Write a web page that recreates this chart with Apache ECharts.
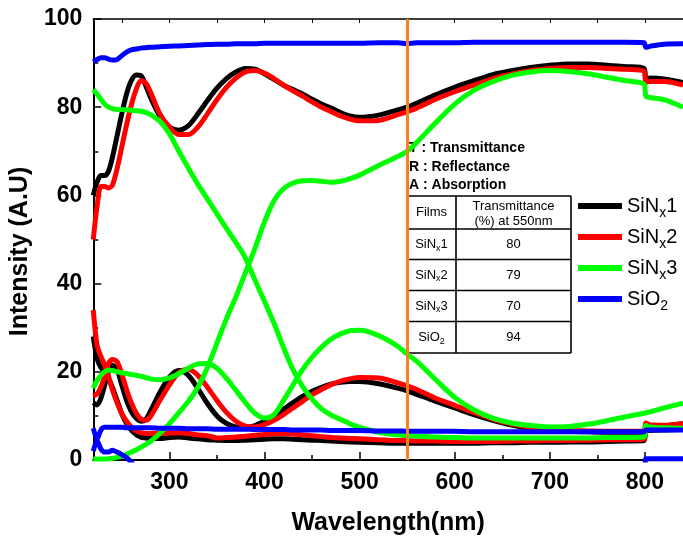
<!DOCTYPE html>
<html>
<head>
<meta charset="utf-8">
<script src="https://cdn.jsdelivr.net/npm/echarts@6/dist/echarts.min.js"></script>
<style>
html, body { margin: 0; padding: 0; background: #fff; }
#chart { width: 683px; height: 544px; }
</style>
</head>
<body>
<div id="chart"></div>
<script>
// Wavelength samples (nm)
const wavelength = [220,224,228,232,236,240,245,250,255,260,265,270,275,280,
  290,300,310,320,330,340,350,360,370,380,390,400,410,420,430,440,450,460,470,480,490,500,
  520,540,550,560,580,600,620,640,660,680,700,720,740,760,780,
  799,801,805,820,840];

// SiNx1 : transmittance / reflectance / absorption (%)
const sinx1T = [60,63,64.5,64.5,65.5,68.5,73.5,78.5,83,86,87.3,87.2,85,82.3,
  78,75.5,74.8,75.8,78.5,81.5,84.3,86.5,88,88.8,88.6,87.6,86.3,85,84,83,81.8,80.7,79.8,78.8,78,77.7,
  78.2,79.4,80,80.9,82.8,84.5,86,87.4,88.3,89,89.5,89.8,89.8,89.5,89.2,
  88.8,86.4,86.6,86.4,85.6];
const sinx1R = [13,12.5,14,17,20,21.5,20.5,17,13.5,11,9.5,8.8,9.2,11,
  15.3,18.8,20.3,19.2,16.2,12.8,10,8.3,7.5,7.4,7.8,8.8,10,11.5,13,14.4,15.6,16.5,17.2,17.6,17.8,17.8,
  17.3,16.3,15.7,14.9,13.3,11.8,10.3,9,7.9,7.1,6.7,6.5,6.4,6.3,6.3,
  6.3,6.6,6.7,6.8,6.9];
const sinx1A = [28,23,21,20,18.5,16.5,13.5,10.5,8.3,6.8,5.8,5.2,5,4.9,
  4.9,5.1,5.2,5,4.8,4.6,4.5,4.4,4.4,4.5,4.6,4.7,4.8,4.8,4.7,4.6,4.5,4.4,4.3,4.2,4.1,4,
  3.9,3.8,3.8,3.8,3.8,3.8,3.8,3.9,3.9,4,4,4.1,4.1,4.2,4.3,
  4.4,8.2,7.8,7.8,8.2];

// SiNx2
const sinx2T = [50,57.5,62,62,61.7,62.3,66,71,76,80.5,84,86,85.5,83.5,
  78.5,75.5,73.8,73.8,75.5,78.5,81.7,84.5,86.6,88,88.3,87.7,86.5,85,83.7,82.5,81.2,80,79,78,77.3,76.9,
  77,78.3,79,79.8,81.8,83.5,85,86.5,87.5,88.3,88.8,89,89,88.8,88.6,
  88.2,85.6,85.8,85.8,85];
const sinx2R = [14.5,15,16.5,19,21.8,22.8,22.3,19.5,16,13,10.7,9.3,9,9.8,
  13.5,17,19.8,20.6,19.2,16.5,13.5,10.8,8.8,7.7,7.5,8,9,10.3,11.8,13.3,14.8,16,17.1,17.9,18.4,18.7,
  18.6,17.5,16.8,16,14,12.4,10.8,9.3,8.2,7.4,7,6.7,6.6,6.5,6.5,
  6.5,6.8,6.9,7,7.1];
const sinx2A = [34,26,23.5,21.5,19,16,13,10.5,8.8,7.5,6.6,6.2,6,6,
  6,6.1,6.2,6,5.7,5.5,5,5.1,5.2,5.4,5.6,5.8,5.9,6,5.9,5.7,5.5,5.3,5.1,5,4.9,4.8,
  4.6,4.4,4.4,4.3,4.3,4.2,4.2,4.2,4.3,4.3,4.4,4.4,4.5,4.6,4.6,
  4.7,8.4,8,7.9,8.3];

// SiNx3
const sinx3T = [0.2,0.2,0.2,0.2,0.3,0.4,0.6,0.9,1.3,1.8,2.3,2.9,3.5,4.2,
  6,8.2,10.7,13.3,16.5,21,26.5,32,37,42.5,48,54,58.8,61.5,62.8,63.3,63.4,63.2,63,63.2,63.8,64.6,
  66.8,68.8,70,72,76.5,80.7,83.8,85.8,87.2,88,88.3,88.1,87.6,86.8,86,
  85.2,82.5,82.2,81.7,80];
const sinx3R = [16.3,18,19.2,20,20.4,20.3,20,19.8,19.6,19.4,19.2,19,18.7,18.4,
  18.2,18.6,19.6,20.8,21.8,21.9,20.8,18.5,15.8,13,10.6,9.5,10.3,13.5,17,20.5,23.3,25.6,27.4,28.6,29.3,29.4,
  28.2,25.8,24,22.4,18.2,14.2,11.4,9.5,8.4,7.8,7.5,7.6,8.1,8.9,9.8,
  10.6,10.7,10.9,11.8,12.9];
const sinx3A = [84,83,81.8,80.7,80,79.7,79.5,79.5,79.4,79.3,79.2,79.1,78.8,78.4,
  76.8,74,70,66.2,62.5,59.2,55.8,52.5,49.3,45.8,40.8,36,31,25.5,20.5,16.7,13.8,11.6,10.2,9.2,8.2,7.4,
  6.3,5.7,5.5,5.4,5.2,5.1,5,5,5,5,5,5,5,5.1,5.1,
  5.2,7.8,7.5,7.3,7.2];

// SiO2
const sio2T = [90.3,90.8,91.2,91.2,90.9,90.7,90.8,91.7,92.5,93,93.2,93.4,93.5,93.6,
  93.7,93.8,93.9,94,94.1,94.2,94.3,94.3,94.4,94.4,94.4,94.5,94.5,94.5,94.5,94.5,94.5,94.5,94.5,94.5,94.5,94.5,
  94.6,94.6,94.4,94.6,94.6,94.6,94.7,94.7,94.7,94.7,94.7,94.7,94.7,94.7,94.7,
  94.6,93.6,93.8,94.3,94.4];
const sio2R = [7.2,4.8,6.8,7.4,7.4,7.4,7.4,7.4,7.3,7.3,7.3,7.3,7.3,7.3,
  7.2,7.2,7.2,7.1,7.1,7.1,7,7,7,7,6.9,6.9,6.9,6.9,6.8,6.8,6.8,6.8,6.7,6.7,6.7,6.7,
  6.6,6.6,6.5,6.5,6.5,6.5,6.4,6.4,6.4,6.4,6.4,6.4,6.4,6.4,6.4,
  6.4,6.8,6.8,6.8,6.8];
const sio2A = [2,4.3,2.5,1.8,1.8,2.2,1.8,1.2,0.5,-0.5,-2,-2,-2,-2,
  -2,-2,-2,-2,-2,-2,-2,-2,-2,-2,-2,-2,-2,-2,-2,-2,-2,-2,-2,-2,-2,-2,
  -2,-2,-2,-2,-2,-2,-2,-2,-2,-2,-2,-2,-2,-2,-2,
  -2,0.3,0.3,0.3,0.3];

// Film names, legend labels and line colours
const filmNames = ['SiNx1', 'SiNx2', 'SiNx3', 'SiO2'];
const filmLabels = ['{n|SiN}{s|x}{n|1}', '{n|SiN}{s|x}{n|2}', '{n|SiN}{s|x}{n|3}', '{n|SiO}{s|2}'];
const filmColors = ['#000000', '#ff0000', '#00ff00', '#0000ff'];
const filmCurves = [
  [sinx1T, sinx1R, sinx1A],
  [sinx2T, sinx2R, sinx2A],
  [sinx3T, sinx3R, sinx3A],
  [sio2T, sio2R, sio2A]
];
const markWavelength = 550;
const xMajorTicks = [300, 400, 500, 600, 700, 800];
const xMinorTicks = [250, 350, 450, 550, 650, 750];
const xTopTicks = [250, 300, 350, 400, 450, 500, 550, 600, 650, 700, 750, 800];

const FONT = 'Liberation Sans, Arial, sans-serif';

const chart = echarts.init(document.getElementById('chart'), null, { renderer: 'canvas' });

const series = [];
filmCurves.forEach((curves, f) => {
  curves.forEach((vals) => {
    series.push({
      type: 'line',
      name: filmNames[f],
      xAxisIndex: 0,
      yAxisIndex: 0,
      data: wavelength.map((w, i) => [w, vals[i]]),
      showSymbol: false,
      smooth: 0.3,
      clip: true,
      lineStyle: { width: 5, color: filmColors[f] },
      itemStyle: { color: filmColors[f] },
      emphasis: { disabled: true }
    });
  });
});
// vertical marker at the reference wavelength
series[series.length - 1].markLine = {
  silent: true,
  symbol: ['none', 'none'],
  label: { show: false },
  lineStyle: { color: '#f5821f', width: 3, type: 'solid' },
  emphasis: { disabled: true },
  data: [{ xAxis: markWavelength }]
};

// transmittance at the marker wavelength
const markIdx = wavelength.indexOf(markWavelength);
const tValues = filmCurves.map(c => Math.round(c[0][markIdx]));

// table geometry
const tx0 = 407, tx1 = 456, tx2 = 571;
const ty = [196, 229, 259.5, 290.5, 321.5, 353];
const cellFont = '13px ' + FONT;
const graphics = [];
function hLine(y) {
  graphics.push({ type: 'line', shape: { x1: tx0, y1: y, x2: tx2, y2: y }, style: { stroke: '#000', lineWidth: 1.6 }, silent: true });
}
function vLine(x) {
  graphics.push({ type: 'line', shape: { x1: x, y1: ty[0], x2: x, y2: ty[ty.length - 1] }, style: { stroke: '#000', lineWidth: 1.6 }, silent: true });
}
function txt(x, y, text, font, rich) {
  const style = { text: text, x: x, y: y, font: font, fill: '#000', align: 'center', verticalAlign: 'middle', textAlign: 'center', textVerticalAlign: 'middle' };
  if (rich) style.rich = rich;
  graphics.push({ type: 'text', style: style, silent: true });
}
ty.forEach(hLine);
[tx0, tx1, tx2].forEach(vLine);
const cx1 = (tx0 + tx1) / 2, cx2 = (tx1 + tx2) / 2;
txt(cx1, (ty[0] + ty[1]) / 2, 'Films', cellFont);
txt(cx2, ty[0] + 10, 'Transmittance', cellFont);
txt(cx2, ty[0] + 25, '(%) at ' + markWavelength + 'nm', cellFont);
const cellRich = {
  n: { fontSize: 13, fontFamily: FONT, color: '#000' },
  s: { fontSize: 9, fontFamily: FONT, color: '#000', padding: [8, 0, 0, 0] }
};
for (let r = 0; r < 4; r++) {
  const yc = (ty[r + 1] + ty[r + 2]) / 2;
  txt(cx1, yc, filmLabels[r], cellFont, cellRich);
  txt(cx2, yc, String(tValues[r]), cellFont);
}
// key to the curve families
const keyFont = 'bold 14px ' + FONT;
[['T : Transmittance', 148.5], ['R : Reflectance', 167], ['A : Absorption', 185]].forEach(k => {
  graphics.push({ type: 'text', style: { text: k[0], x: 409, y: k[1], font: keyFont, fill: '#000', align: 'left', verticalAlign: 'middle', textAlign: 'left', textVerticalAlign: 'middle' }, silent: true });
});

const axisLabelStyle = { color: '#000', fontFamily: FONT, fontWeight: 'bold', fontSize: 23 };
const common = { type: 'value', min: 220, max: 840, splitLine: { show: false } };

const option = {
  animation: false,
  backgroundColor: '#fff',
  grid: { left: 89, right: 0, top: 19, bottom: 84, containLabel: false },
  legend: {
    data: filmNames,
    orient: 'vertical',
    left: 578,
    top: 196,
    padding: 0,
    itemWidth: 44,
    itemHeight: 6,
    itemGap: 7,
    icon: 'rect',
    selectedMode: false,
    formatter: name => filmLabels[filmNames.indexOf(name)],
    textStyle: {
      color: '#000',
      fontFamily: FONT,
      fontSize: 20,
      rich: {
        n: { fontSize: 20, fontFamily: FONT, color: '#000' },
        s: { fontSize: 14, fontFamily: FONT, color: '#000', padding: [14, 0, 0, 0] }
      }
    }
  },
  xAxis: [
    Object.assign({}, common, {
      position: 'bottom',
      name: 'Wavelength(nm)',
      nameLocation: 'middle',
      nameGap: 51,
      nameTextStyle: { color: '#000', fontFamily: FONT, fontWeight: 'bold', fontSize: 25 },
      axisLine: { onZero: false, lineStyle: { color: '#000', width: 2 } },
      axisTick: { inside: true, length: 8, customValues: xMajorTicks, lineStyle: { color: '#000', width: 1.5 } },
      axisLabel: Object.assign({ margin: 11, customValues: xMajorTicks }, axisLabelStyle)
    }),
    Object.assign({}, common, {
      position: 'bottom',
      axisLine: { show: false, onZero: false },
      axisTick: { inside: true, length: 5, customValues: xMinorTicks, lineStyle: { color: '#000', width: 1.5 } },
      axisLabel: { show: false }
    }),
    Object.assign({}, common, {
      position: 'top',
      axisLine: { onZero: false, lineStyle: { color: '#000', width: 1.5 } },
      axisTick: { inside: true, length: 4, customValues: xTopTicks, lineStyle: { color: '#000', width: 1 } },
      axisLabel: { show: false }
    })
  ],
  yAxis: {
    type: 'value',
    min: 0,
    max: 100,
    interval: 20,
    name: 'Intensity (A.U)',
    nameLocation: 'middle',
    nameGap: 45,
    nameRotate: 90,
    nameTextStyle: { color: '#000', fontFamily: FONT, fontWeight: 'bold', fontSize: 25, padding: [0, 24, 0, 0] },
    splitLine: { show: false },
    axisLine: { show: true, lineStyle: { color: '#000', width: 2 } },
    axisTick: { inside: true, length: 8, lineStyle: { color: '#000', width: 1.5 } },
    minorTick: { show: true, splitNumber: 2, length: 5, lineStyle: { color: '#000', width: 1.5 } },
    axisLabel: Object.assign({ margin: 11 }, axisLabelStyle)
  },
  graphic: graphics,
  series: series
};
chart.setOption(option);
</script>
</body>
</html>
